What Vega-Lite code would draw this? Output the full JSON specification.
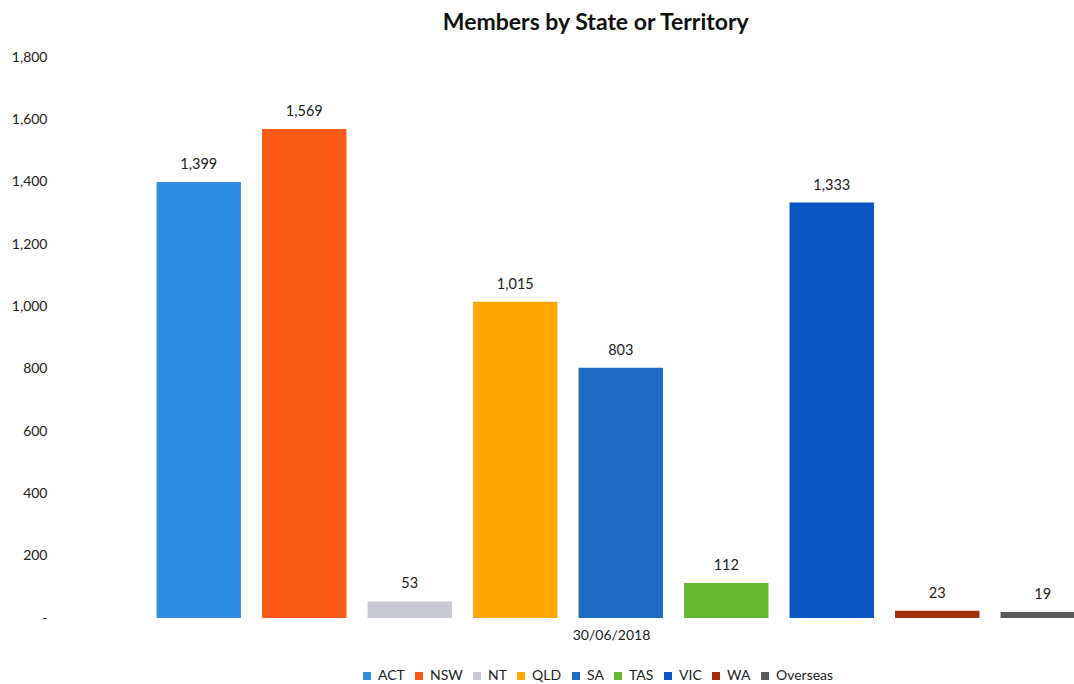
{
  "$schema": "https://vega.github.io/schema/vega-lite/v6.json",
  "autosize": {"type": "none"},
  "width": 949.5,
  "height": 561,
  "padding": {"left": 146, "top": 57, "right": 0, "bottom": 66},
  "background": "white",
  "view": {"stroke": null},
  "title": {"text": "Members by State or Territory", "font": "Lato", "fontSize": 23, "fontWeight": "bold", "color": "#111111", "offset": 15, "dx": -25},
  "data": {"values": [
    {"state": "ACT", "members": 1399, "date": "30/06/2018"},
    {"state": "NSW", "members": 1569, "date": "30/06/2018"},
    {"state": "NT", "members": 53, "date": "30/06/2018"},
    {"state": "QLD", "members": 1015, "date": "30/06/2018"},
    {"state": "SA", "members": 803, "date": "30/06/2018"},
    {"state": "TAS", "members": 112, "date": "30/06/2018"},
    {"state": "VIC", "members": 1333, "date": "30/06/2018"},
    {"state": "WA", "members": 23, "date": "30/06/2018"},
    {"state": "Overseas", "members": 19, "date": "30/06/2018"}
  ]},
  "encoding": {
    "x": {"field": "state", "type": "nominal", "sort": null,
      "scale": {"paddingInner": 0.2, "paddingOuter": 0.1},
      "axis": {"labels": false, "ticks": false, "domain": false, "title": "30/06/2018", "titleX": 465, "titleFont": "Lato", "titleFontSize": 14, "titleFontWeight": "normal", "titleColor": "#222222", "titlePadding": 10}},
    "y": {"field": "members", "type": "quantitative",
      "scale": {"domain": [0, 1800], "nice": false},
      "axis": {"values": [0, 200, 400, 600, 800, 1000, 1200, 1400, 1600, 1800], "labelExpr": "datum.value === 0 ? '-' : format(datum.value, ',')", "grid": false, "ticks": false, "domain": false, "title": null, "offset": 97, "labelFont": "Lato", "labelFontSize": 14, "labelColor": "#222222"}}
  },
  "layer": [
    {"mark": {"type": "bar"},
      "encoding": {
        "color": {"field": "state", "type": "nominal", "sort": null,
          "scale": {"domain": ["ACT", "NSW", "NT", "QLD", "SA", "TAS", "VIC", "WA", "Overseas"],
            "range": ["#2F8EE3", "#F95B16", "#C9C9D3", "#FFA703", "#1D6BC2", "#66B82E", "#0A55C4", "#A3300D", "#5A5A5A"]},
          "legend": {"orient": "none", "legendX": 214, "legendY": 612, "direction": "horizontal", "title": null, "symbolType": "square", "symbolSize": 64, "symbolStrokeWidth": 0, "labelFont": "Lato", "labelFontSize": 14, "labelColor": "#222222", "columnPadding": 7, "labelOffset": 4}}
      }},
    {"mark": {"type": "text", "dy": -17, "font": "Lato", "fontSize": 14.5, "color": "#222222"},
      "encoding": {"text": {"field": "members", "type": "quantitative", "format": ","}}}
  ]
}
